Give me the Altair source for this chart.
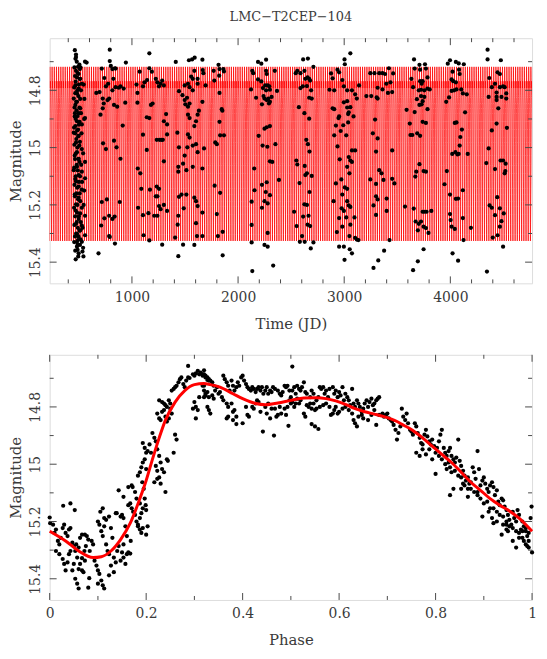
import altair as alt
import pandas as pd

TITLE = "LMC\u2212T2CEP\u2212104"
FONT = "DejaVu Serif, Liberation Serif, serif"
TXT = "#3a3a3a"
FRAME = "#4a4a4a"

# ---------------- model light curve ----------------
model_phase = [0.000, 0.033, 0.060, 0.090, 0.107, 0.127, 0.147, 0.167, 0.187, 0.200,
               0.213, 0.227, 0.240, 0.260, 0.280, 0.300, 0.320, 0.333, 0.353, 0.380,
               0.400, 0.427, 0.447, 0.473, 0.500, 0.527, 0.553, 0.573, 0.593, 0.613,
               0.633, 0.653, 0.673, 0.693, 0.720, 0.733, 0.753, 0.773, 0.793, 0.813,
               0.833, 0.853, 0.873, 0.893, 0.913, 0.933, 0.953, 0.973, 1.000]
model_mag = [15.234, 15.268, 15.303, 15.326, 15.323, 15.303, 15.263, 15.206, 15.120, 15.057,
             14.983, 14.908, 14.846, 14.783, 14.743, 14.722, 14.718, 14.722, 14.731, 14.754,
             14.771, 14.788, 14.792, 14.786, 14.777, 14.769, 14.768, 14.771, 14.779, 14.791,
             14.806, 14.817, 14.825, 14.834, 14.851, 14.863, 14.882, 14.908, 14.937, 14.966,
             14.994, 15.028, 15.063, 15.091, 15.120, 15.143, 15.163, 15.188, 15.234]

period = 20.6      # days, estimated from the spacing of the model cycles
epoch = 200.0
t_start, t_end = 200.0, 4800.0

# ---------------- time series observations (JD, mag) ----------------
season1 = [(473,14.675),(473,14.684),(558,14.700),(573,14.703),(492,14.718),(510,14.726),(473,14.732),
           (498,14.743),(482,14.755),(513,14.760),(528,14.777),(467,14.783),(498,14.794),(482,14.811),
           (452,14.829),(482,14.840),(467,14.851),(513,14.863),(498,14.880),(558,14.897),(461,14.891),
           (482,14.908),(528,14.919),(467,14.925),(492,14.937),(452,14.948),(498,14.959),(473,14.982),
           (504,14.993),(528,15.005),(482,15.016),(461,15.028),(498,15.039),(558,15.050),(482,15.067),
           (452,15.079),(528,15.084),(498,15.096),(558,15.107),(473,15.118),(498,15.136),(528,15.147),
           (461,15.164),(498,15.175),(513,15.187),(473,15.198),(528,15.210),(482,15.227),(558,15.238),
           (498,15.249),(473,15.266),(528,15.272),(513,15.289),(482,15.301),(492,15.323),(528,15.329),
           (488,15.357),(498,15.369),(534,15.363),(543,15.380),(482,15.346),(558,15.306),
           (480,14.70),(490,14.74),(470,14.77),(500,14.78),(485,14.80),(495,14.82),(475,14.84),(505,14.86),
           (478,14.87),(488,14.89),(470,14.90),(500,14.92),(484,14.94),(494,14.96),(476,14.97),(486,15.00),
           (472,15.02),(496,15.04),(480,15.06),(490,15.08),(470,15.10),(500,15.12),(484,15.14),(476,15.16),
           (492,15.18),(486,15.20),(470,15.22),(500,15.24),(480,15.26),(490,15.28),(474,15.30),(496,15.31),
           (482,15.33),(488,15.34),(520,14.80),(525,14.95),(540,15.02),(530,15.12),(545,15.20),(535,15.28),
           (515,15.32),(545,14.78),(550,14.90),(515,14.72),(540,15.35),
           (462,14.66),(468,14.69),(458,14.72),(464,14.75),(456,14.79),(466,14.81),(459,14.86),(463,14.88),
           (455,14.93),(465,14.95),(458,14.99),(464,15.04),(456,15.07),(466,15.11),(459,15.13),(463,15.17),
           (455,15.21),(465,15.24),(458,15.27),(464,15.31),(456,15.33),(466,15.36),(470,15.39),(494,15.38),
           (505,14.71),(508,14.76),(512,14.83),(507,14.91),(510,14.98),(506,15.05),(511,15.10),(508,15.16),
           (512,15.23),(507,15.29),(510,15.34),(520,14.88),(522,15.06),(518,15.26),(552,14.83),(550,15.15)]
season2 = [(791,14.658),(791,14.698),(801,14.715),(840,14.723),(943,14.703),(716,14.724),(816,14.726),
           (846,14.724),(740,14.757),(825,14.760),(755,14.786),(776,14.777),(846,14.789),(876,14.791),
           (922,14.794),(892,14.786),(664,14.809),(695,14.806),(725,14.829),(770,14.834),(785,14.829),
           (816,14.800),(831,14.851),(861,14.857),(937,14.843),(704,14.885),(725,14.863),(734,14.846),
           (913,14.923),(728,14.985),(755,15.005),(831,14.976),(855,14.999),(892,15.039),(716,15.190),
           (764,15.181),(885,15.190),(740,15.247),(785,15.238),(816,15.249),(837,15.241),(710,15.272),
           (785,15.309),(791,15.312),(840,15.335),(685,15.369)]
season3 = [(1164,14.671),(1073,14.735),(1164,14.723),(1188,14.735),(1043,14.780),(1052,14.809),
           (1104,14.786),(1119,14.772),(1143,14.764),(1225,14.760),(1240,14.772),(1255,14.786),
           (1270,14.777),(1285,14.766),(1301,14.783),(1052,14.843),(1179,14.851),(1195,14.846),
           (1140,14.894),(1164,14.897),(1322,14.883),(1301,14.908),(1331,14.919),(1104,14.955),
           (1234,14.973),(1261,14.973),(1279,14.973),(1291,14.973),(1331,14.954),(1055,15.073),
           (1079,15.090),(1140,15.008),(1301,15.048),(1088,15.144),(1170,15.147),(1234,15.136),
           (1255,15.144),(1058,15.210),(1225,15.170),(1240,15.170),(1255,15.204),(1270,15.215),
           (1301,15.200),(1331,15.221),(1104,15.236),(1155,15.229),(1210,15.238),(1240,15.238),
           (1110,15.306),(1164,15.324),(1285,15.339)]
season4 = [(1413,14.701),(1537,14.695),(1567,14.692),(1591,14.686),(1664,14.693),(1588,14.732),
           (1667,14.729),(1673,14.740),(1443,14.803),(1497,14.783),(1528,14.777),(1543,14.789),
           (1573,14.800),(1619,14.777),(1694,14.783),(1573,14.760),(1619,14.760),(1558,14.752),
           (1476,14.817),(1497,14.834),(1519,14.826),(1503,14.849),(1528,14.857),(1543,14.846),
           (1664,14.840),(1528,14.885),(1543,14.897),(1619,14.885),(1631,14.871),(1604,14.908),
           (1588,14.925),(1428,14.948),(1528,14.954),(1543,14.965),(1604,14.988),(1619,15.016),
           (1679,15.003),(1573,14.993),(1522,14.999),(1443,14.999),(1497,15.028),(1482,15.056),
           (1437,15.067),(1513,15.079),(1573,15.067),(1664,15.073),(1437,15.084),(1443,15.172),
           (1467,15.164),(1513,15.164),(1588,15.175),(1604,15.187),(1619,15.204),(1664,15.227),
           (1488,15.212),(1604,15.264),(1437,15.238),(1431,15.269),(1407,15.314),(1482,15.339),
           (1588,15.340),(1613,15.309),(1664,15.309),(1437,15.379),
           (1770,14.732),(1776,14.766),(1816,14.711),(1825,14.726),(1861,14.726),(1867,14.734),
           (1822,14.749),(1825,14.809),(1846,14.866),(1852,14.871),(1825,14.910),(1831,14.957),
           (1867,14.957),(1785,14.982),(1800,14.988),(1779,15.133),(1831,15.158),(1800,15.232),
           (1810,15.309),(1855,15.294),(1855,15.376)]
season5 = [(2188,14.701),(2219,14.707),(2264,14.693),(2134,14.732),(2143,14.740),(2264,14.732),
           (2270,14.743),(2346,14.732),(2188,14.762),(2219,14.769),(2255,14.783),(2279,14.783),
           (2294,14.786),(2234,14.792),(2122,14.797),(2264,14.800),(2300,14.798),(2367,14.802),
           (2170,14.826),(2240,14.820),(2249,14.829),(2270,14.834),(2285,14.829),(2300,14.840),
           (2316,14.823),(2291,14.846),(2225,14.849),(2249,14.934),(2270,14.929),(2300,14.925),
           (2194,14.959),(2231,14.993),(2276,14.997),(2352,14.988),(2152,15.073),(2300,15.048),
           (2322,15.050),(2225,15.130),(2270,15.121),(2385,15.113),(2155,15.149),(2261,15.155),
           (2300,15.166),(2128,15.189),(2249,15.187),(2279,15.195),(2225,15.210),(2128,15.270),
           (2279,15.298),(2249,15.340),(2279,15.346),(2128,15.331),(2134,15.431),(2331,15.412)]
season6 = [(2543,14.740),(2558,14.732),(2613,14.692),(2658,14.689),(2588,14.740),(2625,14.732),
           (2710,14.718),(2634,14.760),(2655,14.755),(2670,14.760),(2679,14.766),(2610,14.786),
           (2588,14.792),(2649,14.785),(2688,14.800),(2670,14.826),(2694,14.829),(2573,14.859),
           (2625,14.880),(2670,14.899),(2643,14.973),(2658,14.988),(2673,15.014),(2549,15.045),
           (2558,15.059),(2628,15.064),(2634,15.096),(2649,15.090),(2694,15.099),(2579,15.124),
           (2673,15.155),(2625,15.198),(2649,15.200),(2664,15.238),(2528,15.224),(2613,15.241),
           (2552,15.274),(2655,15.269),(2679,15.274),(2582,15.329),(2628,15.329),(2603,15.309),
           (2710,15.331),(2685,15.352)]
season7 = [(2876,14.741),(2891,14.758),(2937,14.728),(2952,14.737),(3003,14.692),(3006,14.709),
           (3058,14.671),(2982,14.764),(2997,14.786),(3028,14.800),(3073,14.800),(3103,14.814),
           (3119,14.829),(3140,14.783),(2861,14.798),(2906,14.800),(2891,14.863),(2906,14.866),
           (2997,14.842),(3028,14.838),(3028,14.860),(3058,14.859),(3043,14.877),(3037,14.883),
           (3088,14.891),(2952,14.891),(2946,14.897),(2922,14.923),(3037,14.912),(2991,14.922),
           (2967,14.942),(3019,14.957),(2906,14.957),(2937,14.996),(3073,15.010),(3103,15.010),
           (2958,15.041),(3043,15.033),(3058,15.045),(3028,15.067),(3073,15.050),(3049,15.090),
           (2973,15.111),(2922,15.125),(3006,15.139),(3028,15.144),(2982,15.164),(2900,15.187),
           (3028,15.187),(3043,15.202),(3058,15.207),(2976,15.212),(2997,15.221),(2952,15.246),
           (3019,15.244),(3097,15.244),(2982,15.276),(3058,15.269),(2931,15.295),(3049,15.309),
           (3103,15.315),(3119,15.321),(3134,15.323),(2952,15.346),(2997,15.346),(3052,15.355),
           (3073,15.369),(3003,15.392)]
season8 = [(3209,14.820),(3255,14.820),(3246,14.740),(3285,14.740),(3315,14.829),(3306,14.825),
           (3330,14.740),(3361,14.740),(3385,14.743),(3421,14.723),(3461,14.741),(3436,14.772),
           (3397,14.777),(3361,14.797),(3315,14.791),(3412,14.809),(3452,14.806),(3291,14.902),
           (3270,14.950),(3315,14.968),(3300,15.014),(3452,15.010),(3330,15.079),(3352,15.090),
           (3246,15.111),(3370,15.113),(3452,15.109),(3473,15.125),(3300,15.127),(3300,15.170),
           (3315,15.181),(3400,15.178),(3276,15.202),(3300,15.235),(3400,15.221),(3427,15.323),
           (3376,15.360),(3321,15.394),(3276,15.420)]
season9 = [(3658,14.692),(3664,14.724),(3709,14.711),(3715,14.728),(3761,14.709),(3770,14.724),
           (3785,14.755),(3633,14.760),(3715,14.768),(3730,14.777),(3739,14.768),(3649,14.789),
           (3703,14.800),(3724,14.798),(3755,14.800),(3785,14.794),(3806,14.797),(3685,14.831),
           (3724,14.820),(3755,14.823),(3739,14.838),(3709,14.851),(3730,14.849),(3785,14.866),
           (3588,14.868),(3664,14.876),(3739,14.910),(3770,14.914),(3618,14.916),(3688,14.950),
           (3624,14.956),(3642,14.956),(3715,14.959),(3709,15.058),(3679,15.084),(3748,15.082),
           (3770,15.084),(3670,15.101),(3573,15.206),(3655,15.213),(3673,15.258),(3703,15.266),
           (3724,15.258),(3739,15.224),(3755,15.224),(3776,15.224),(3821,15.221),(3694,15.289),
           (3748,15.276),(3770,15.281),(3794,15.298),(3748,15.355),(3694,15.397),(3649,15.428)]
season10 = [(3997,14.695),(3976,14.707),(4052,14.701),(4079,14.706),(4127,14.709),(4021,14.735),
            (4082,14.728),(4088,14.743),(4012,14.762),(4027,14.768),(4052,14.772),(4058,14.797),
            (4036,14.800),(4012,14.802),(4103,14.797),(4118,14.811),(4155,14.814),(3988,14.825),
            (3961,14.840),(4139,14.877),(4058,14.912),(4042,14.914),(4109,14.937),(4094,14.963),
            (4088,14.993),(4018,15.022),(4048,15.016),(4067,15.024),(4079,15.022),(4164,15.022),
            (3967,15.082),(3945,15.128),(4118,15.149),(3997,15.164),(4052,15.179),(4073,15.178),
            (3997,15.232),(4003,15.253),(4118,15.246),(4012,15.276),(4042,15.284),(4194,15.280),
            (4124,15.323),(4021,15.369),(4073,15.395)]
season11 = [(4351,14.658),(4351,14.692),(4476,14.695),(4445,14.737),(4467,14.743),(4367,14.757),
            (4391,14.789),(4467,14.789),(4497,14.786),(4512,14.789),(4421,14.777),(4436,14.808),
            (4361,14.823),(4436,14.823),(4527,14.811),(4527,14.829),(4482,14.823),(4436,14.834),
            (4452,14.863),(4436,14.916),(4533,14.931),(4391,14.940),(4361,15.003),(4473,15.045),
            (4497,15.045),(4339,15.054),(4421,15.075),(4521,15.056),(4518,15.082),(4512,15.090),
            (4442,15.173),(4370,15.202),(4391,15.210),(4467,15.212),(4421,15.236),(4503,15.230),
            (4482,15.257),(4467,15.276),(4445,15.306),(4400,15.314),(4497,15.346),(4345,15.433)]

# ---------------- phased observations (phase, mag) ----------------
fold_a = [(0.000,15.186),(0.001,15.206),(0.007,15.211),(0.010,15.240),(0.013,15.228),(0.017,15.268),
          (0.020,15.280),(0.023,15.257),(0.027,15.223),(0.030,15.211),(0.033,15.240),(0.037,15.251),
          (0.040,15.228),(0.043,15.223),(0.028,15.145),(0.043,15.137),(0.052,15.160),(0.013,15.303),
          (0.020,15.314),(0.027,15.331),(0.030,15.348),(0.033,15.371),(0.037,15.343),(0.040,15.314),
          (0.043,15.303),(0.047,15.371),(0.050,15.348),(0.053,15.303),(0.057,15.326),(0.053,15.400),
          (0.057,15.417),(0.060,15.366),(0.060,15.434),(0.063,15.348),(0.067,15.371),(0.070,15.377),
          (0.073,15.337),(0.077,15.251),(0.063,15.257),(0.067,15.246),(0.073,15.246),(0.080,15.263),
          (0.083,15.303),(0.087,15.268),(0.090,15.280),(0.093,15.337),(0.097,15.354),(0.100,15.371),
          (0.103,15.383),(0.107,15.406),(0.110,15.423),(0.113,15.434),(0.100,15.417),(0.080,15.431),
          (0.082,15.398),(0.067,15.328),(0.072,15.303),(0.075,15.286),(0.060,15.291),(0.055,15.280),
          (0.050,15.286),(0.047,15.274),(0.100,15.200),(0.103,15.211),(0.105,15.166),(0.107,15.234),
          (0.110,15.251),(0.113,15.217),(0.117,15.280),(0.120,15.303),(0.123,15.314),(0.127,15.223),
          (0.130,15.257),(0.133,15.326),(0.137,15.343),(0.133,15.377),(0.127,15.354),(0.123,15.388),
          (0.140,15.303),(0.143,15.286),(0.147,15.337),(0.150,15.308),(0.153,15.280),(0.153,15.326),
          (0.157,15.348),(0.160,15.314),(0.163,15.308),(0.167,15.312),(0.168,15.268),(0.160,15.251),
          (0.157,15.217),(0.153,15.188),(0.150,15.177),(0.147,15.183),(0.139,15.171),(0.137,15.171),
          (0.143,15.091),(0.153,15.114),(0.123,15.183),(0.117,15.194),(0.113,15.188),(0.110,15.154)]
fold_b = [(0.163,15.143),(0.167,15.137),(0.170,15.154),(0.173,15.166),(0.177,15.177),(0.180,15.200),
          (0.183,15.211),(0.187,15.188),(0.190,15.171),(0.193,15.154),(0.187,15.137),(0.180,15.120),
          (0.177,15.097),(0.170,15.074),(0.163,15.080),(0.172,15.080),(0.183,15.040),(0.187,15.028),
          (0.190,15.011),(0.193,14.994),(0.197,14.983),(0.200,15.017),(0.192,15.063),(0.195,15.086),
          (0.197,15.120),(0.199,15.143),(0.200,15.160),(0.203,15.217),(0.200,15.246),(0.193,15.223),
          (0.190,15.240),(0.187,15.228),(0.183,15.217),(0.193,14.926),(0.197,14.943),(0.200,14.960),
          (0.203,14.954),(0.207,14.931),(0.210,14.960),(0.213,14.891),(0.217,14.908),(0.220,14.920),
          (0.223,14.948),(0.227,14.971),(0.230,14.994),(0.233,15.017),(0.237,15.028),(0.240,15.097),
          (0.243,14.983),(0.245,14.988),(0.220,15.006),(0.223,15.023),(0.227,15.046),(0.230,15.068),
          (0.217,15.063),(0.223,15.051),(0.223,14.823),(0.227,14.840),(0.230,14.846),(0.233,14.817),
          (0.237,14.811),(0.240,14.834),(0.243,14.851),(0.247,14.840),(0.250,14.806),(0.253,14.823),
          (0.257,14.960),(0.260,14.897),(0.263,14.914),(0.247,14.777),(0.250,14.788),(0.253,14.743),
          (0.257,14.737),(0.260,14.731),(0.263,14.726),(0.267,14.714),(0.270,14.703),(0.273,14.697),
          (0.277,14.720),(0.280,14.731),(0.283,14.708),(0.287,14.697),(0.290,14.699),(0.227,14.777),
          (0.233,14.783),(0.237,14.788),(0.240,14.794),(0.243,14.800),(0.287,14.657),(0.297,14.686),
          (0.300,14.691),(0.303,14.683),(0.307,14.674),(0.310,14.686),(0.313,14.680),(0.317,14.691),
          (0.320,14.686),(0.323,14.697),(0.327,14.706),(0.330,14.708),(0.320,14.726),(0.327,14.748),
          (0.323,14.760),(0.300,14.783),(0.303,14.800),(0.307,14.811),(0.303,14.840),(0.297,14.806),
          (0.310,14.766)]
fold_c = [(0.320,14.672),(0.317,14.686),(0.323,14.691),(0.327,14.697),(0.330,14.703),(0.333,14.708),
          (0.337,14.714),(0.340,14.726),(0.317,14.726),(0.320,14.743),(0.323,14.754),(0.327,14.800),
          (0.330,14.811),(0.333,14.823),(0.320,14.766),(0.330,14.766),(0.337,14.760),(0.340,14.771),
          (0.343,14.743),(0.347,14.731),(0.350,14.754),(0.353,14.748),(0.357,14.766),(0.360,14.777),
          (0.360,14.691),(0.363,14.703),(0.367,14.714),(0.370,14.726),(0.373,14.743),(0.377,14.708),
          (0.380,14.726),(0.383,14.743),(0.387,14.731),(0.390,14.714),(0.393,14.726),(0.397,14.697),
          (0.400,14.691),(0.403,14.708),(0.407,14.720),(0.410,14.731),(0.413,14.737),(0.417,14.743),
          (0.420,14.731),(0.423,14.737),(0.427,14.748),(0.430,14.737),(0.433,14.731),(0.437,14.743),
          (0.440,14.731),(0.443,14.754),(0.447,14.743),(0.450,14.731),(0.453,14.754),(0.457,14.743),
          (0.460,14.748),(0.463,14.731),(0.467,14.737),(0.473,14.743),(0.477,14.754),(0.480,14.760),
          (0.483,14.748),(0.487,14.726),(0.490,14.731),(0.493,14.726),(0.497,14.743),(0.500,14.766),
          (0.503,14.743),(0.507,14.731),(0.510,14.754),(0.513,14.726),(0.517,14.737),(0.520,14.743),
          (0.523,14.731),(0.527,14.714),(0.530,14.748),(0.533,14.754),(0.540,14.766),(0.543,14.743),
          (0.547,14.754),(0.553,14.777),(0.557,14.766),(0.560,14.731),(0.563,14.737),(0.567,14.731),
          (0.570,14.754),(0.573,14.743),(0.577,14.766),(0.580,14.737),(0.587,14.731),(0.590,14.754),
          (0.593,14.743),(0.597,14.766),(0.600,14.748),(0.603,14.760),(0.607,14.731),(0.610,14.777),
          (0.613,14.754),(0.617,14.766),(0.620,14.777),(0.623,14.794),(0.627,14.737),(0.630,14.788),
          (0.633,14.800),(0.637,14.777),(0.640,14.788),(0.643,14.800),(0.647,14.817),(0.650,14.806),
          (0.367,14.788),(0.370,14.800),(0.377,14.788),(0.380,14.817),(0.383,14.811),(0.387,14.834),
          (0.370,14.834),(0.367,14.840),(0.380,14.846),(0.387,14.860),(0.407,14.800),(0.410,14.828),
          (0.413,14.834),(0.420,14.800),(0.423,14.806),(0.427,14.788),(0.430,14.777),(0.433,14.783),
          (0.437,14.817),(0.447,14.800),(0.450,14.823),(0.453,14.788),(0.457,14.840),(0.460,14.806),
          (0.467,14.806),(0.470,14.834),(0.473,14.828),(0.477,14.800),(0.480,14.823),(0.487,14.806),
          (0.490,14.828),(0.493,14.800),(0.497,14.777),(0.500,14.788),(0.503,14.783),(0.507,14.800),
          (0.510,14.788),(0.513,14.771),(0.517,14.788),(0.520,14.777),(0.527,14.823),(0.530,14.834),
          (0.533,14.794),(0.537,14.800),(0.540,14.788),(0.543,14.806),(0.547,14.788),(0.550,14.811),
          (0.553,14.806),(0.560,14.800),(0.567,14.794),(0.573,14.788),(0.580,14.800),(0.583,14.828),
          (0.587,14.823),(0.590,14.811),(0.593,14.800),(0.597,14.823),(0.600,14.817),(0.607,14.806),
          (0.613,14.800),(0.620,14.811),(0.627,14.823),(0.630,14.846),(0.633,14.857),(0.637,14.868),
          (0.640,14.834),(0.647,14.828),(0.650,14.840),(0.503,14.659),(0.442,14.886),(0.465,14.900),
          (0.495,14.866),(0.543,14.860),(0.550,14.868),(0.557,14.877),(0.400,14.857)]
fold_d = [(0.653,14.788),(0.657,14.777),(0.660,14.800),(0.663,14.783),(0.667,14.771),(0.670,14.794),
          (0.673,14.788),(0.677,14.777),(0.680,14.771),(0.683,14.766),(0.660,14.846),(0.667,14.828),
          (0.673,14.811),(0.677,14.863),(0.683,14.828),(0.690,14.823),(0.693,14.834),(0.697,14.828),
          (0.700,14.823),(0.703,14.840),(0.707,14.846),(0.710,14.851),(0.713,14.863),(0.717,14.880),
          (0.720,14.914),(0.723,14.891),(0.727,14.868),(0.730,14.806),(0.733,14.834),(0.737,14.846),
          (0.740,14.823),(0.743,14.857),(0.747,14.880),(0.750,14.886),(0.753,14.897),(0.757,14.857),
          (0.760,14.868),(0.763,14.891),(0.767,14.908),(0.770,14.926),(0.773,14.931),(0.777,14.897),
          (0.780,14.880),(0.783,14.903),(0.787,14.920),(0.790,14.931),(0.793,14.914),(0.797,14.937),
          (0.800,14.960),(0.803,14.943),(0.807,14.920),(0.810,14.897),(0.813,14.880),(0.817,14.943),
          (0.820,14.960),(0.823,14.971),(0.827,14.954),(0.830,14.943),(0.833,14.971),(0.837,14.983),
          (0.840,14.994),(0.843,14.977),(0.847,14.914),(0.850,14.988),(0.853,15.006),(0.857,15.023),
          (0.860,15.040),(0.863,15.057),(0.867,15.046),(0.870,15.068),(0.873,15.086),(0.877,15.011),
          (0.880,15.028),(0.883,15.051),(0.887,14.954),(0.890,15.017),(0.893,15.074),(0.897,15.057),
          (0.900,15.046),(0.903,15.068),(0.907,15.086),(0.910,15.097),(0.913,15.074),(0.917,15.063),
          (0.920,15.080),(0.923,15.108),(0.927,15.091),(0.930,15.131),(0.933,15.143),(0.937,15.120),
          (0.940,15.126),(0.943,15.148),(0.947,15.160),(0.950,15.177),(0.953,15.194),(0.957,15.211),
          (0.960,15.166),(0.963,15.188),(0.967,15.200),(0.970,15.160),(0.973,15.177),(0.977,15.228),
          (0.980,15.200),(0.983,15.217),(0.987,15.234),(0.990,15.251),(0.993,15.268),(0.997,15.188),
          (1.000,15.308),(0.999,15.148),(0.800,15.034),(0.830,15.108),(0.837,15.086),(0.853,15.086),
          (0.867,15.114),(0.887,15.097),(0.897,15.183),(0.910,15.166),(0.917,15.188),(0.920,15.206),
          (0.927,15.200),(0.937,15.246),(0.940,15.211),(0.947,15.228),(0.960,15.268),(0.967,15.291),
          (0.973,15.240),(0.980,15.257),(0.983,15.268),(0.987,15.280),(0.990,15.286),(0.993,15.291),
          (0.947,15.211),(0.950,15.234),(0.760,14.960),(0.767,14.971),(0.773,14.948),(0.780,14.966),
          (0.787,14.948),(0.793,14.983),(0.807,14.971),(0.813,14.983),(0.820,15.000),(0.823,15.017),
          (0.827,14.994),(0.830,15.011),(0.833,15.028),(0.840,15.023),(0.847,15.040),(0.853,15.046),
          (0.857,15.068),(0.860,15.074),(0.867,15.086),(0.873,15.063),(0.880,15.097),(0.887,15.108),
          (0.893,15.120),(0.900,15.137),(0.907,15.131),(0.913,15.154),(0.920,15.154),(0.927,15.166),
          (0.933,15.177),(0.940,15.183),(0.947,15.200),(0.953,15.217),(0.960,15.223),(0.967,15.234),
          (0.973,15.257),(0.980,15.234),(0.987,15.223),(0.993,15.240)]

# ---------------- axis tick values ----------------
time_major = [1000, 2000, 3000, 4000]
time_minor = [400, 600, 800, 1200, 1400, 1600, 1800, 2200, 2400, 2600, 2800,
              3200, 3400, 3600, 3800, 4200, 4400, 4600]
phase_major = [0, 0.2, 0.4, 0.6, 0.8, 1.0]
phase_minor = [0.1, 0.3, 0.5, 0.7, 0.9]
mag_major = [14.8, 15.0, 15.2, 15.4]
mag_minor = [14.7, 14.9, 15.1, 15.3]

time_domain = [225, 4770]
phase_domain = [0, 1]
mag_domain = [14.618, 15.474]

W, H = 486, 247

# ---------------- tables ----------------
obs = pd.DataFrame(season1 + season2 + season3 + season4 + season5 + season6 +
                   season7 + season8 + season9 + season10 + season11, columns=["t", "mag"])
fold = pd.DataFrame(fold_a + fold_b + fold_c + fold_d, columns=["phase", "mag"])
curve = pd.DataFrame({"phase": model_phase, "mag": model_mag})

# model evaluated at the knot phases of every cycle across the time range
rows = []
n0 = int((t_start - epoch) // period) - 1
n1 = int((t_end - epoch) // period) + 1
for n in range(n0, n1 + 1):
    for p, m in zip(model_phase[:-1], model_mag[:-1]):
        t = epoch + period * (n + p)
        if t_start <= t <= t_end:
            rows.append((t, m))
model_ts = pd.DataFrame(rows, columns=["t", "mag"])

xs_top = alt.Scale(domain=time_domain, nice=False, zero=False)
xs_bot = alt.Scale(domain=phase_domain, nice=False, zero=False)
ys = alt.Scale(domain=mag_domain, nice=False, zero=False, reverse=True)


def xaxis(title, values):
    return alt.Axis(values=values, title=title, ticks=False, domain=False, grid=False,
                    labelExpr="'' + datum.value", labelFont=FONT, labelFontSize=14,
                    labelColor=TXT, labelPadding=7, labelFlush=False, labelOverlap=False,
                    titleFont=FONT, titleFontSize=15,
                    titleFontWeight="normal", titleColor=TXT, titlePadding=12)


yaxis = alt.Axis(values=mag_major, title="Magnitude", ticks=False, domain=False, grid=False,
                 labelExpr="'' + datum.value", labelAngle=270, labelAlign="center",
                 labelBaseline="bottom", labelFont=FONT, labelFontSize=14, labelColor=TXT,
                 labelPadding=7, labelFlush=False, titleFont=FONT, titleFontSize=15,
                 titleFontWeight="normal", titleColor=TXT, titlePadding=5)


def frame_ticks(xscale, xax, xmaj, xmin):
    layers = []
    for vals, L in ((xmaj, 7), (xmin, 4)):
        d = pd.DataFrame({"v": vals})
        b = alt.Chart(d).mark_rule(color=FRAME, strokeWidth=1)
        layers.append(b.encode(x=alt.X("v:Q", scale=xscale, axis=xax),
                               y=alt.value(H), y2=alt.value(H - L)))
        layers.append(b.encode(x=alt.X("v:Q", scale=xscale, axis=xax),
                               y=alt.value(0), y2=alt.value(L)))
    for vals, L in ((mag_major, 7), (mag_minor, 4)):
        d = pd.DataFrame({"v": vals})
        b = alt.Chart(d).mark_rule(color=FRAME, strokeWidth=1)
        layers.append(b.encode(y=alt.Y("v:Q", scale=ys, axis=yaxis),
                               x=alt.value(0), x2=alt.value(L)))
        layers.append(b.encode(y=alt.Y("v:Q", scale=ys, axis=yaxis),
                               x=alt.value(W), x2=alt.value(W - L)))
    return layers


# ---------------- top panel ----------------
ax_time = xaxis("Time (JD)", time_major)
top_model = alt.Chart(model_ts).mark_line(color="#ff0000", strokeWidth=0.75, clip=True).encode(
    x=alt.X("t:Q", scale=xs_top, axis=ax_time),
    y=alt.Y("mag:Q", scale=ys, axis=yaxis),
    order="t:Q")
top_pts = alt.Chart(obs).mark_circle(color="black", size=18, opacity=1).encode(
    x=alt.X("t:Q", scale=xs_top, axis=ax_time),
    y=alt.Y("mag:Q", scale=ys, axis=yaxis))

top = alt.layer(top_model, top_pts, *frame_ticks(xs_top, ax_time, time_major, time_minor)).properties(
    width=W, height=H,
    title=alt.TitleParams(TITLE, font=FONT, fontSize=13, fontWeight="normal", color=TXT,
                          anchor="middle", frame="group", offset=14))

# ---------------- bottom panel ----------------
ax_phase = xaxis("Phase", phase_major)
bot_pts = alt.Chart(fold).mark_circle(color="black", size=18, opacity=1).encode(
    x=alt.X("phase:Q", scale=xs_bot, axis=ax_phase),
    y=alt.Y("mag:Q", scale=ys, axis=yaxis))
bot_curve = alt.Chart(curve).mark_line(color="#ff0000", strokeWidth=3, interpolate="monotone").encode(
    x=alt.X("phase:Q", scale=xs_bot, axis=ax_phase),
    y=alt.Y("mag:Q", scale=ys, axis=yaxis),
    order="phase:Q")

bottom = alt.layer(bot_pts, bot_curve, *frame_ticks(xs_bot, ax_phase, phase_major, phase_minor)).properties(
    width=W, height=H)

chart = alt.vconcat(top, bottom, spacing=22, padding={"left": 0, "top": 0, "right": 0, "bottom": 0}
                    ).configure_view(stroke=FRAME, strokeWidth=1).configure(background="white")

chart.save("out.html", embed_options={"renderer": "svg", "actions": False})
